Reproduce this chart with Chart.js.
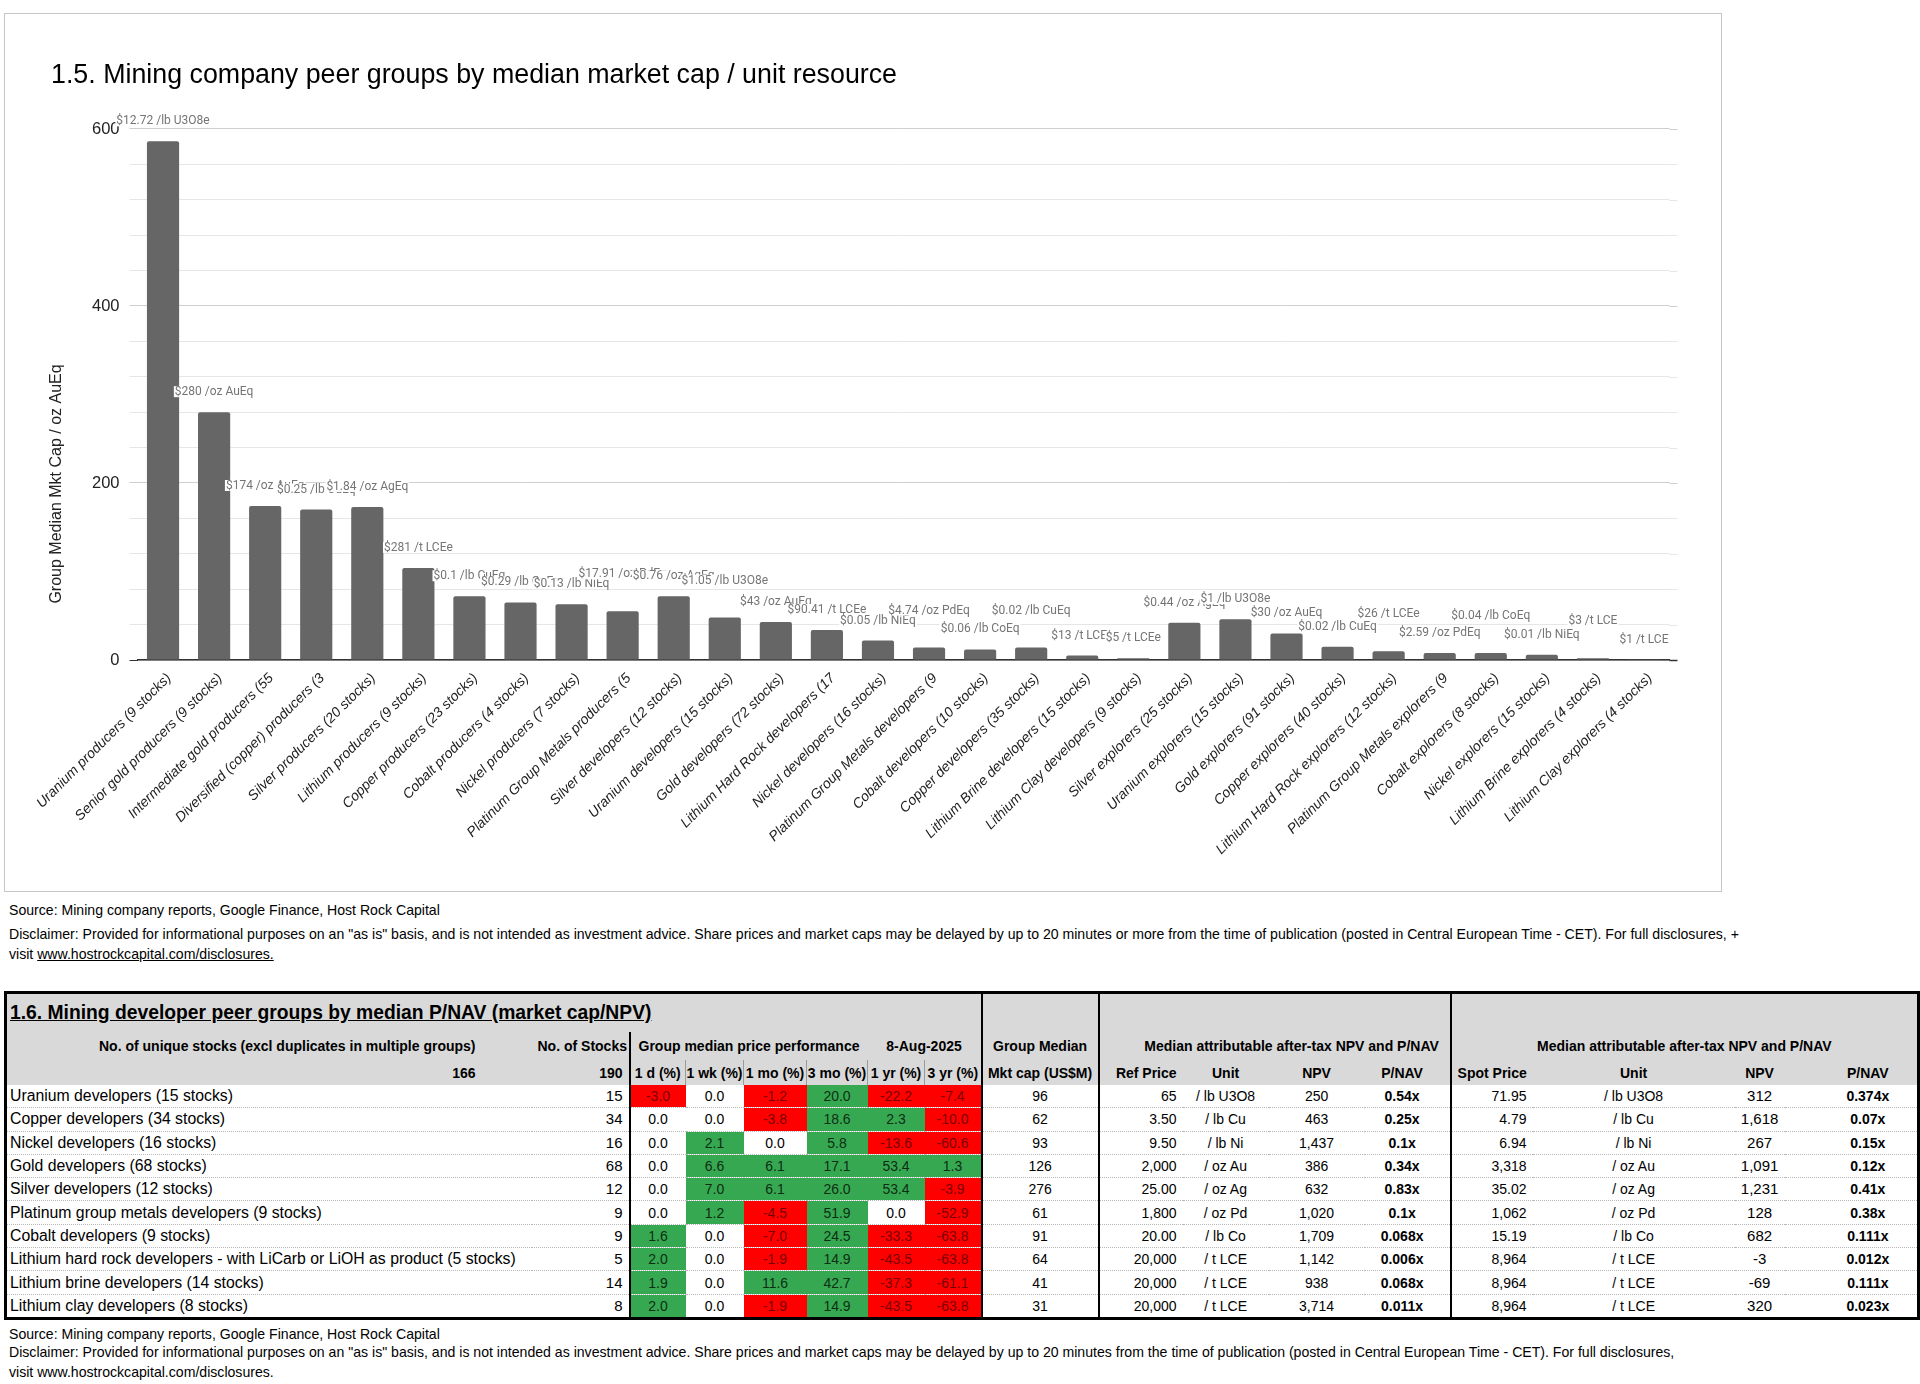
<!DOCTYPE html>
<html>
<head>
<meta charset="utf-8">
<title>Mining company peer groups</title>
<script src="https://cdn.jsdelivr.net/npm/chart.js@4.4.1/dist/chart.umd.min.js"></script>
<style>
  body { margin: 0; width: 1920px; height: 1384px; background: #fff; position: relative; overflow: hidden;
         font-family: "Liberation Sans", Arial, sans-serif; color: #000; }
  #chartBox { position: absolute; left: 4px; top: 13px; width: 1716px; height: 877px; border: 1px solid #c6c6c6; }
  .note { position: absolute; left: 9px; font-size: 14.1px; line-height: 18px; white-space: nowrap; }
  .note u { text-decoration: underline; }
  #peer { position: absolute; left: 4px; top: 991px; width: 1913px; border-collapse: collapse; table-layout: fixed;
          border: 3px solid #000; }
  #peer td { padding: 0 6px; white-space: nowrap; overflow: hidden; font-size: 14px; line-height: 16px; }
  #peer tr.head td { background: #d9d9d9; font-weight: bold; font-size: 14px; }
  #peer tr.ttl td { height: 38px; }
  #peer tr.h1 td { height: 28px; }
  #peer tr.h2 td { height: 25px; }
  #peer tr.row td { height: 22.3px; border-bottom: 1px dotted #b8b8b8; }
  #peer tr.row:last-child td { border-bottom: none; }
  #peer tr.row td.name { font-size: 15.8px; padding-left: 3px; }
  #peer tr.head td.ttltext { font-size: 19.3px; line-height: 22px; padding-left: 3px; text-decoration: underline; vertical-align: middle; }
  #peer td.r { text-align: right; }
  #peer td.c { text-align: center; }
  #peer td.ra { text-align: right; padding-right: 56px; }
  #peer td.bl { border-left: 2px solid #000; }
  #peer td.sep { border-left: 1px solid #9a9a9a; }
  #peer td.pos { background: #37a852; color: #0d2e12; }
  #peer td.neg { background: #ff0000; color: #7a0000; }
  #peer td.b { font-weight: bold; }
  #peer td.pn { padding-right: 16px; }
  #peer td.ps { padding-left: 40px; }
  #peer td.p0 { padding: 0; }
  #peer td.big { font-size: 15px; }
  #peer td.shift { padding-left: 40px; }
</style>
</head>
<body>

<div id="chartBox"><canvas id="peerChart"></canvas></div>

<div class="note" style="top:901px">Source: Mining company reports, Google Finance, Host Rock Capital</div>
<div class="note" style="top:925px">Disclaimer: Provided for informational purposes on an "as is" basis, and is not intended as investment advice. Share prices and market caps may be delayed by up to 20 minutes or more from the time of publication (posted in Central European Time - CET). For full disclosures, +</div>
<div class="note" style="top:945px">visit <u>www.hostrockcapital.com/disclosures.</u></div>

<table id="peer"></table>

<div class="note" style="top:1325px">Source: Mining company reports, Google Finance, Host Rock Capital</div>
<div class="note" style="top:1343px">Disclaimer: Provided for informational purposes on an "as is" basis, and is not intended as investment advice. Share prices and market caps may be delayed by up to 20 minutes from the time of publication (posted in Central European Time - CET). For full disclosures,</div>
<div class="note" style="top:1363px">visit www.hostrockcapital.com/disclosures.</div>

<script>
// ---- chart data ----
const chartTitle = "1.5. Mining company peer groups by median market cap / unit resource";
const yAxisTitle = "Group Median Mkt Cap / oz AuEq";

const categories = [
  "Uranium producers (9 stocks)",
  "Senior gold producers (9 stocks)",
  "Intermediate gold producers (55",
  "Diversified (copper) producers (3",
  "Silver producers (20 stocks)",
  "Lithium producers (9 stocks)",
  "Copper producers (23 stocks)",
  "Cobalt producers (4 stocks)",
  "Nickel producers (7 stocks)",
  "Platinum Group Metals producers (5",
  "Silver developers (12 stocks)",
  "Uranium developers (15 stocks)",
  "Gold developers (72 stocks)",
  "Lithium Hard Rock developers (17",
  "Nickel developers (16 stocks)",
  "Platinum Group Metals developers (9",
  "Cobalt developers (10 stocks)",
  "Copper developers (35 stocks)",
  "Lithium Brine developers (15 stocks)",
  "Lithium Clay developers (9 stocks)",
  "Silver explorers (25 stocks)",
  "Uranium explorers (15 stocks)",
  "Gold explorers (91 stocks)",
  "Copper explorers (40 stocks)",
  "Lithium Hard Rock explorers (12 stocks)",
  "Platinum Group Metals explorers (9",
  "Cobalt explorers (8 stocks)",
  "Nickel explorers (15 stocks)",
  "Lithium Brine explorers (4 stocks)",
  "Lithium Clay explorers (4 stocks)",
];

// group median market cap per oz AuEq
const medianCapPerOz = [586, 280, 174, 170, 173, 104, 72, 65, 63, 55, 72, 48, 43, 34, 22,
                        14, 12, 14, 5, 2, 42, 46, 30, 15, 10, 8, 8, 6, 2, 0.4];

// value in the group's own unit, shown above each bar
const unitLabels = [
  "$12.72 /lb U3O8e", "$280 /oz AuEq", "$174 /oz AuEq", "$0.25 /lb CuEq", "$1.84 /oz AgEq",
  "$281 /t LCEe", "$0.1 /lb CuEq", "$0.29 /lb CoEq", "$0.13 /lb NiEq", "$17.91 /oz PdEq",
  "$0.76 /oz AgEq", "$1.05 /lb U3O8e", "$43 /oz AuEq", "$90.41 /t LCEe", "$0.05 /lb NiEq",
  "$4.74 /oz PdEq", "$0.06 /lb CoEq", "$0.02 /lb CuEq", "$13 /t LCEe", "$5 /t LCEe",
  "$0.44 /oz AgEq", "$1 /lb U3O8e", "$30 /oz AuEq", "$0.02 /lb CuEq", "$26 /t LCEe",
  "$2.59 /oz PdEq", "$0.04 /lb CoEq", "$0.01 /lb NiEq", "$3 /t LCE", "$1 /t LCE",
];

const yTickLabels = [0, 200, 400, 600];

// labels the original lifts one line higher to dodge a neighbour
const liftedLabels = [9, 11, 15, 17, 24, 26, 28];

// ---- table data ----
const devGroups = [
  "Uranium developers (15 stocks)", "Copper developers (34 stocks)", "Nickel developers (16 stocks)",
  "Gold developers (68 stocks)", "Silver developers (12 stocks)", "Platinum group metals developers (9 stocks)",
  "Cobalt developers (9 stocks)", "Lithium hard rock developers - with LiCarb or LiOH as product (5 stocks)",
  "Lithium brine developers (14 stocks)", "Lithium clay developers (8 stocks)",
];
const devStocks = [15, 34, 16, 68, 12, 9, 9, 5, 14, 8];
const perf1d  = [-3.0, 0.0, 0.0, 0.0, 0.0, 0.0, 1.6, 2.0, 1.9, 2.0];
const perf1wk = [0.0, 0.0, 2.1, 6.6, 7.0, 1.2, 0.0, 0.0, 0.0, 0.0];
const perf1mo = [-1.2, -3.8, 0.0, 6.1, 6.1, -4.5, -7.0, -1.9, 11.6, -1.9];
const perf3mo = [20.0, 18.6, 5.8, 17.1, 26.0, 51.9, 24.5, 14.9, 42.7, 14.9];
const perf1yr = [-22.2, 2.3, -13.6, 53.4, 53.4, 0.0, -33.3, -43.5, -37.3, -43.5];
const perf3yr = [-7.4, -10.0, -60.6, 1.3, -3.9, -52.9, -63.8, -63.8, -61.1, -63.8];
const mktCap = [96, 62, 93, 126, 276, 61, 91, 64, 41, 31];
const refPrice = ["65", "3.50", "9.50", "2,000", "25.00", "1,800", "20.00", "20,000", "20,000", "20,000"];
const priceUnit = ["/ lb U3O8", "/ lb Cu", "/ lb Ni", "/ oz Au", "/ oz Ag", "/ oz Pd", "/ lb Co", "/ t LCE", "/ t LCE", "/ t LCE"];
const refNpv = ["250", "463", "1,437", "386", "632", "1,020", "1,709", "1,142", "938", "3,714"];
const refPnav = ["0.54x", "0.25x", "0.1x", "0.34x", "0.83x", "0.1x", "0.068x", "0.006x", "0.068x", "0.011x"];
const spotPrice = ["71.95", "4.79", "6.94", "3,318", "35.02", "1,062", "15.19", "8,964", "8,964", "8,964"];
const spotNpv = ["312", "1,618", "267", "1,091", "1,231", "128", "682", "-3", "-69", "320"];
const spotPnav = ["0.374x", "0.07x", "0.15x", "0.12x", "0.41x", "0.38x", "0.111x", "0.012x", "0.111x", "0.023x"];
const uniqueStocks = 166;
const totalStocks = 190;
const perfDate = "8-Aug-2025";

// ---- build table ----
function perfCell(v, first) {
  const cls = v > 0 ? "pos" : v < 0 ? "neg" : "";
  return `<td class="c ${cls}${first ? " bl" : ""}">${v.toFixed(1)}</td>`;
}

let html = `<colgroup>
  <col style="width:526px"><col style="width:98px"><col style="width:56px"><col style="width:58px">
  <col style="width:63px"><col style="width:61px"><col style="width:57px"><col style="width:57px">
  <col style="width:117px"><col style="width:84px"><col style="width:86px"><col style="width:96px">
  <col style="width:86px"><col style="width:82px"><col style="width:202px"><col style="width:50px">
  <col style="width:134px"></colgroup>`;
html += `<tr class="head ttl"><td colspan="8" class="ttltext">1.6. Mining developer peer groups by median P/NAV (market cap/NPV)</td>
  <td class="bl"></td><td colspan="4" class="bl"></td><td colspan="4" class="bl"></td></tr>`;
html += `<tr class="head h1"><td class="ra">No. of unique stocks (excl duplicates in multiple groups)</td>
  <td class="r">No. of Stocks</td>
  <td colspan="4" class="c bl">Group median price performance</td>
  <td colspan="2" class="c">${perfDate}</td>
  <td class="c bl">Group Median</td>
  <td colspan="4" class="c bl shift">Median attributable after-tax NPV and P/NAV</td>
  <td colspan="4" class="c bl">Median attributable after-tax NPV and P/NAV</td></tr>`;
html += `<tr class="head h2"><td class="ra big">${uniqueStocks}</td>
  <td class="r big">${totalStocks}</td>
  <td class="c bl p0">1 d (%)</td><td class="c sep p0">1 wk (%)</td><td class="c sep p0">1 mo (%)</td>
  <td class="c sep p0">3 mo (%)</td><td class="c sep p0">1 yr (%)</td><td class="c sep p0">3 yr (%)</td>
  <td class="c bl p0">Mkt cap (US$M)</td>
  <td class="r bl">Ref Price</td><td class="c">Unit</td><td class="c">NPV</td><td class="c pn">P/NAV</td>
  <td class="r bl">Spot Price</td><td class="c">Unit</td><td class="c p0">NPV</td><td class="c ps">P/NAV</td></tr>`;
devGroups.forEach((name, i) => {
  html += `<tr class="row"><td class="name">${name}</td><td class="r big">${devStocks[i]}</td>`
    + perfCell(perf1d[i], true) + perfCell(perf1wk[i]) + perfCell(perf1mo[i])
    + perfCell(perf3mo[i]) + perfCell(perf1yr[i]) + perfCell(perf3yr[i])
    + `<td class="c bl">${mktCap[i]}</td>`
    + `<td class="r bl">${refPrice[i]}</td><td class="c">${priceUnit[i]}</td><td class="c">${refNpv[i]}</td>`
    + `<td class="c b pn">${refPnav[i]}</td>`
    + `<td class="r bl">${spotPrice[i]}</td><td class="c">${priceUnit[i]}</td>`
    + `<td class="c p0 big">${spotNpv[i]}</td><td class="c b ps">${spotPnav[i]}</td></tr>`;
});
document.getElementById("peer").innerHTML = html;

// ---- chart ----
Chart.defaults.font.family = '"Liberation Sans", Arial, sans-serif';

const barLabels = {
  id: "barLabels",
  afterDatasetsDraw(chart) {
    const ctx = chart.ctx;
    const meta = chart.getDatasetMeta(0);
    ctx.save();
    ctx.font = '12px Roboto, "Liberation Sans", sans-serif';
    ctx.textAlign = "center";
    ctx.textBaseline = "middle";
    meta.data.forEach((bar, i) => {
      const y = bar.y - (liftedLabels.includes(i) ? 37 : 20);
      const w = ctx.measureText(unitLabels[i]).width;
      ctx.fillStyle = "#fff";
      ctx.fillRect(bar.x - w / 2 - 1, y - 6, w + 2, 11);
      ctx.fillStyle = "#757575";
      ctx.fillText(unitLabels[i], bar.x, y);
    });
    ctx.restore();
  },
  afterDraw(chart) {
    const ctx = chart.ctx;
    const area = chart.chartArea;
    const y = chart.scales.y;
    ctx.save();
    // gridlines run a little past the last category in the original
    y.ticks.forEach((t) => {
      const py = Math.round(y.getPixelForValue(t.value)) + 0.5;
      ctx.strokeStyle = t.value === 0 ? "#333" : yTickLabels.includes(t.value) ? "#cfcfcf" : "#e6e6e6";
      ctx.lineWidth = t.value === 0 ? 1.5 : 1;
      ctx.beginPath();
      ctx.moveTo(area.right, py);
      ctx.lineTo(area.right + 8, py);
      ctx.stroke();
    });
    // y axis title sits lower than the axis centre in the original
    ctx.translate(area.left - 80.5, area.bottom - 176);
    ctx.rotate(-Math.PI / 2);
    ctx.font = '16px "Liberation Sans", Arial, sans-serif';
    ctx.fillStyle = "#222";
    ctx.textAlign = "center";
    ctx.textBaseline = "middle";
    ctx.fillText(yAxisTitle, 0, 0);
    ctx.restore();
  },
};

new Chart(document.getElementById("peerChart"), {
  type: "bar",
  data: {
    labels: categories,
    datasets: [{
      data: medianCapPerOz,
      backgroundColor: "#666666",
      borderRadius: { topLeft: 2, topRight: 2 },
      borderSkipped: "bottom",
      barPercentage: 0.63,
      categoryPercentage: 1,
    }],
  },
  options: {
    responsive: true,
    maintainAspectRatio: false,
    animation: false,
    layout: { padding: { left: 46, right: 51.5, top: 0, bottom: 10 } },
    plugins: {
      legend: { display: false },
      tooltip: { enabled: false },
      title: {
        display: true,
        text: chartTitle,
        align: "start",
        color: "#000",
        font: { size: 26.8, weight: "normal" },
        padding: { top: 45.9, bottom: 36.9 },
      },
    },
    scales: {
      x: {
        grid: { display: false, drawTicks: false },
        border: { display: true, color: "#333", width: 1.5 },
        ticks: {
          autoSkip: false,
          maxRotation: 45,
          minRotation: 45,
          padding: 10,
          labelOffset: 6,
          color: "#222",
          font: { size: 14, style: "italic" },
        },
        afterFit(scale) { scale.height = 221; },
      },
      y: {
        min: 0,
        max: 600,
        border: { display: false },
        grid: {
          tickLength: 8,
          color: (c) => (yTickLabels.includes(c.tick.value) ? "#cfcfcf" : "#e6e6e6"),
          tickColor: (c) => (c.tick.value === 0 ? "#333" : yTickLabels.includes(c.tick.value) ? "#cfcfcf" : "#e6e6e6"),
        },
        ticks: {
          stepSize: 40,
          padding: 10,
          color: "#222",
          font: { size: 16.5 },
          callback: (v) => (yTickLabels.includes(v) ? v : ""),
        },
        afterFit(scale) { scale.width = 86.5; },
      },
    },
  },
  plugins: [barLabels],
});
</script>
</body>
</html>
